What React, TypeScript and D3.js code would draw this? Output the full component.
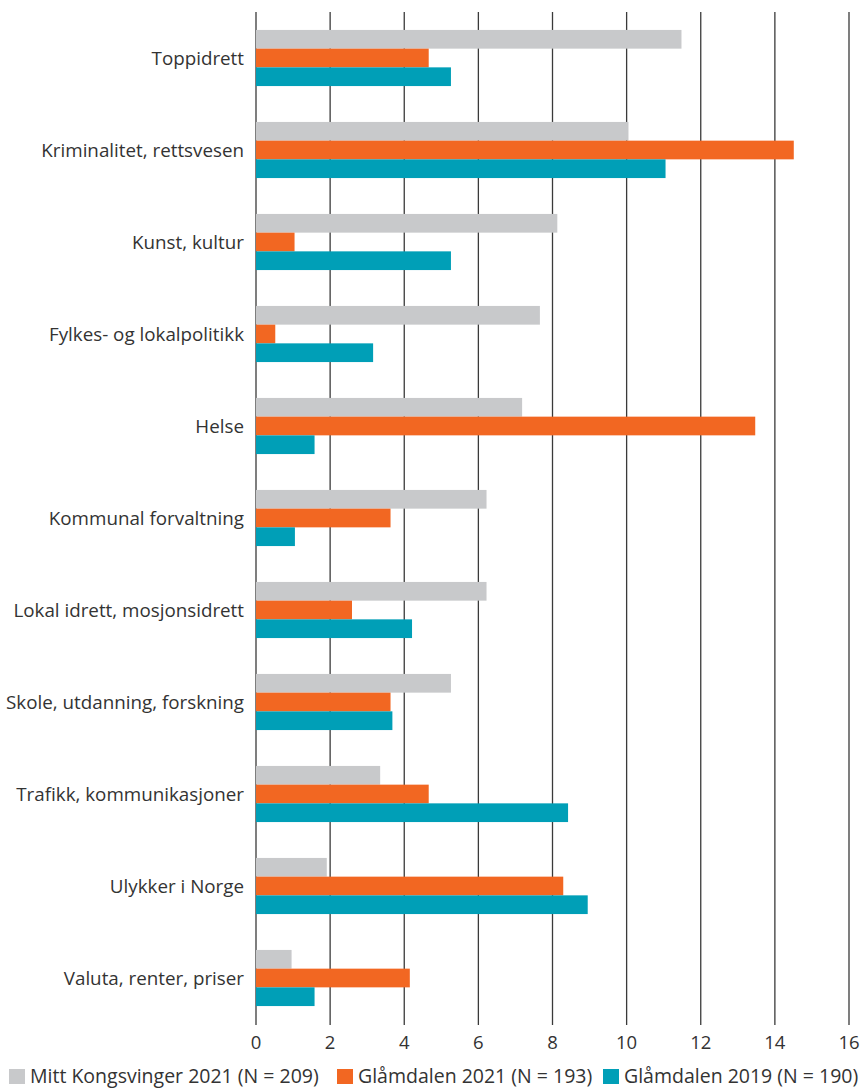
import React from "react";
import * as d3 from "d3";

const categories = [
  "Toppidrett",
  "Kriminalitet, rettsvesen",
  "Kunst, kultur",
  "Fylkes- og lokalpolitikk",
  "Helse",
  "Kommunal forvaltning",
  "Lokal idrett, mosjonsidrett",
  "Skole, utdanning, forskning",
  "Trafikk, kommunikasjoner",
  "Ulykker i Norge",
  "Valuta, renter, priser",
];

const seriesNames = [
  "Mitt Kongsvinger 2021 (N = 209)",
  "Glåmdalen 2021 (N = 193)",
  "Glåmdalen 2019 (N = 190)",
];

const mittKongsvinger2021 = [11.48, 10.05, 8.13, 7.66, 7.18, 6.22, 6.22, 5.26, 3.35, 1.91, 0.96];
const glamdalen2021 = [4.66, 14.51, 1.04, 0.52, 13.47, 3.63, 2.59, 3.63, 4.66, 8.29, 4.15];
const glamdalen2019 = [5.26, 11.05, 5.26, 3.16, 1.58, 1.05, 4.21, 3.68, 8.42, 8.95, 1.58];

const xTicks = [0, 2, 4, 6, 8, 10, 12, 14, 16];

const colors = ["#c8c9cb", "#f26722", "#009fb7"];

export default function App() {
  const width = 861;
  const height = 1088;
  const font = "'Open Sans', sans-serif";
  const textColor = "#333";

  const x = d3.scaleLinear().domain([0, 16]).range([256, 849]);
  const y = d3
    .scaleBand()
    .domain(categories)
    .range([12, 1024])
    .paddingInner(0.39)
    .paddingOuter(0.195);
  const ySub = d3
    .scaleBand()
    .domain(["0", "1", "2"])
    .range([0, y.bandwidth()]);

  const series = [mittKongsvinger2021, glamdalen2021, glamdalen2019];

  // legend item x positions
  const legendX = [9, 337, 603];

  return (
    <svg
      width={width}
      height={height}
      style={{ position: "absolute", left: 0, top: 0, background: "#fff" }}
      fontFamily={font}
    >
      <g>
        {xTicks.map((t) => (
          <line
            key={t}
            x1={x(t)}
            x2={x(t)}
            y1={12}
            y2={1025}
            stroke="#3a3a3a"
            strokeWidth={1.3}
          />
        ))}
      </g>
      <g>
        {categories.map((c, i) => (
          <g key={c} transform={`translate(0, ${y(c)})`}>
            {series.map((s, j) => (
              <rect
                key={j}
                x={x(0)}
                y={ySub(String(j))}
                width={x(s[i]) - x(0)}
                height={ySub.bandwidth()}
                fill={colors[j]}
              />
            ))}
          </g>
        ))}
      </g>
      <g>
        {categories.map((c) => (
          <text
            key={c}
            x={244}
            y={(y(c) as number) + y.bandwidth() / 2}
            dy="0.35em"
            textAnchor="end"
            fontSize={18.8}
            fill={textColor}
          >
            {c}
          </text>
        ))}
      </g>
      <g>
        {xTicks.map((t) => (
          <text
            key={t}
            x={x(t)}
            y={1043}
            dy="0.35em"
            textAnchor="middle"
            fontSize={18.5}
            fill={textColor}
          >
            {t}
          </text>
        ))}
      </g>
      <g>
        {seriesNames.map((n, j) => (
          <g key={n} transform={`translate(${legendX[j]}, 1069)`}>
            <rect x={0} y={0} width={16} height={15} fill={colors[j]} />
            <text x={21} y={7.5} dy="0.35em" fontSize={19.5} fill={textColor}>
              {n}
            </text>
          </g>
        ))}
      </g>
    </svg>
  );
}
